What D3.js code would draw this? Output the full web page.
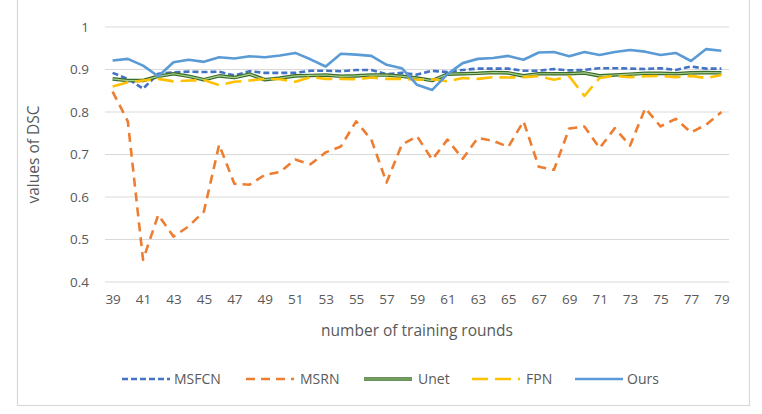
<!DOCTYPE html>
<html>
<head>
<meta charset="utf-8">
<script src="https://cdn.jsdelivr.net/npm/d3@7"></script>
<style>
  body { margin: 0; background: #fff; }
  text { font-family: "Open Sans", "Noto Sans", sans-serif; fill: #595959; }
</style>
</head>
<body>
<div id="chart"></div>
<script>
// Width and height
var chart_width  = 762;
var chart_height = 414;

// data
var rounds = d3.range(39, 80);
var tick_labels = rounds.filter(function(r){ return (r - 39) % 2 === 0; });
var y_ticks = [0.4, 0.5, 0.6, 0.7, 0.8, 0.9, 1];

var msfcn = [0.892, 0.878, 0.855, 0.890, 0.893, 0.895, 0.894, 0.895, 0.886, 0.896,
             0.892, 0.892, 0.892, 0.897, 0.897, 0.896, 0.899, 0.899, 0.889, 0.892,
             0.888, 0.897, 0.894, 0.899, 0.902, 0.902, 0.902, 0.897, 0.897, 0.901,
             0.898, 0.899, 0.903, 0.903, 0.902, 0.901, 0.903, 0.899, 0.907, 0.902, 0.902];
var msrn  = [0.848, 0.778, 0.452, 0.558, 0.507, 0.531, 0.566, 0.723, 0.631, 0.629,
             0.652, 0.659, 0.688, 0.677, 0.705, 0.719, 0.778, 0.735, 0.634, 0.723,
             0.743, 0.688, 0.735, 0.690, 0.739, 0.732, 0.718, 0.778, 0.671, 0.664,
             0.761, 0.766, 0.715, 0.762, 0.721, 0.809, 0.766, 0.784, 0.752, 0.770, 0.800];
var unet  = [0.878, 0.874, 0.874, 0.884, 0.890, 0.884, 0.876, 0.885, 0.881, 0.889,
             0.876, 0.880, 0.885, 0.886, 0.887, 0.884, 0.885, 0.887, 0.887, 0.884,
             0.880, 0.874, 0.889, 0.890, 0.891, 0.893, 0.892, 0.885, 0.890, 0.890,
             0.890, 0.892, 0.885, 0.887, 0.889, 0.891, 0.891, 0.890, 0.892, 0.893, 0.892];
var fpn   = [0.860, 0.870, 0.874, 0.878, 0.872, 0.874, 0.875, 0.863, 0.871, 0.874,
             0.878, 0.877, 0.871, 0.882, 0.878, 0.878, 0.877, 0.881, 0.878, 0.878,
             0.876, 0.877, 0.872, 0.880, 0.878, 0.882, 0.881, 0.882, 0.884, 0.876,
             0.884, 0.838, 0.880, 0.885, 0.882, 0.884, 0.885, 0.882, 0.885, 0.880, 0.887];
var ours  = [0.921, 0.925, 0.909, 0.884, 0.917, 0.923, 0.918, 0.929, 0.926, 0.931,
             0.929, 0.933, 0.939, 0.924, 0.907, 0.937, 0.935, 0.932, 0.911, 0.903,
             0.864, 0.852, 0.889, 0.915, 0.925, 0.927, 0.932, 0.923, 0.940, 0.941,
             0.931, 0.941, 0.934, 0.941, 0.946, 0.942, 0.934, 0.939, 0.920, 0.948, 0.944];

var series = [
  {name: 'MSFCN', values: msfcn, color: '#4472C4', dash: '6,3'},
  {name: 'MSRN',  values: msrn,  color: '#ED7D31', dash: '9,6'},
  {name: 'Unet',  values: unet,  color: '#3B6B2A', dash: null, inner: '#A9D18E'},
  {name: 'FPN',   values: fpn,   color: '#FFC000', dash: '16,7'},
  {name: 'Ours',  values: ours,  color: '#5B9BD5', dash: null}
];

// Create SVG
var svg = d3.select("#chart")
  .append("svg")
  .attr("width", chart_width)
  .attr("height", chart_height);

// chart border
svg.append('rect')
  .attr('x', 17.5).attr('y', -1)
  .attr('width', 732).attr('height', 406.5)
  .attr('fill', 'none')
  .attr('stroke', '#D9D9D9')
  .attr('stroke-width', 1.2);

var plot = {left: 105, right: 729, top: 27, bottom: 282};

var x = d3.scalePoint()
  .domain(rounds)
  .range([plot.left, plot.right])
  .padding(0.5);

var y = d3.scaleLinear()
  .domain([0.4, 1])
  .range([plot.bottom, plot.top]);

// gridlines
svg.append('g')
  .selectAll('line')
  .data(y_ticks)
  .enter()
  .append('line')
  .attr('x1', plot.left).attr('x2', plot.right)
  .attr('y1', function(d){ return y(d); })
  .attr('y2', function(d){ return y(d); })
  .attr('stroke', '#D9D9D9')
  .attr('stroke-width', 1.2);

// y axis labels
var yAxis = d3.axisLeft(y)
  .tickValues(y_ticks)
  .tickSize(0)
  .tickPadding(16)
  .tickFormat(function(d){ return d === 1 ? '1' : d3.format('.1f')(d); });

svg.append('g')
  .attr('transform', 'translate(' + plot.left + ',0)')
  .call(yAxis)
  .call(function(g){ g.select('.domain').remove(); })
  .selectAll('text')
  .style('font-size', '13.5px')
  .style('fill', '#595959');

// x axis labels
var xAxis = d3.axisBottom(x)
  .tickValues(tick_labels)
  .tickSize(0)
  .tickPadding(12);

svg.append('g')
  .attr('transform', 'translate(0,' + plot.bottom + ')')
  .call(xAxis)
  .call(function(g){ g.select('.domain').remove(); })
  .selectAll('text')
  .style('font-size', '13.5px')
  .style('fill', '#595959');

// axis titles
svg.append('text')
  .attr('x', (plot.left + plot.right) / 2)
  .attr('y', 336)
  .attr('text-anchor', 'middle')
  .style('font-size', '15.5px')
  .text('number of training rounds');

svg.append('text')
  .attr('transform', 'translate(39,' + (plot.top + plot.bottom) / 2 + ') rotate(-90)')
  .attr('text-anchor', 'middle')
  .style('font-size', '15.5px')
  .text('values of DSC');

// lines
var line = d3.line()
  .x(function(d, i){ return x(rounds[i]); })
  .y(function(d){ return y(d); });

series.forEach(function(s){
  var p = svg.append('path')
    .datum(s.values)
    .attr('d', line)
    .attr('fill', 'none')
    .attr('stroke', s.color)
    .attr('stroke-width', s.inner ? 3.6 : 2.6)
    .attr('stroke-linejoin', 'round');
  if (s.dash) p.attr('stroke-dasharray', s.dash);
  if (s.inner) {
    svg.append('path')
      .datum(s.values)
      .attr('d', line)
      .attr('fill', 'none')
      .attr('stroke', s.inner)
      .attr('stroke-width', 1.2)
      .attr('stroke-linejoin', 'round');
  }
});

// legend
var legend_x = [122, 246, 364, 472, 575];
var legend_y = 379;

var legend = svg.selectAll('.legend')
  .data(series)
  .enter()
  .append('g')
  .attr('class', 'legend')
  .attr('transform', function(d, i){ return 'translate(' + legend_x[i] + ',' + legend_y + ')'; });

legend.append('line')
  .attr('x1', 0).attr('x2', 48)
  .attr('y1', 0).attr('y2', 0)
  .attr('stroke', function(d){ return d.color; })
  .attr('stroke-width', function(d){ return d.inner ? 3.6 : 2.6; })
  .attr('stroke-dasharray', function(d){ return d.dash; });

legend.filter(function(d){ return d.inner; })
  .append('line')
  .attr('x1', 0).attr('x2', 48)
  .attr('y1', 0).attr('y2', 0)
  .attr('stroke', function(d){ return d.inner; })
  .attr('stroke-width', 1.2);

legend.append('text')
  .attr('x', function(d){ return d.name === 'MSFCN' ? 52 : (d.name === 'Ours' ? 52 : 54); })
  .attr('y', 5)
  .style('font-size', '14px')
  .text(function(d){ return d.name; });
</script>
</body>
</html>
